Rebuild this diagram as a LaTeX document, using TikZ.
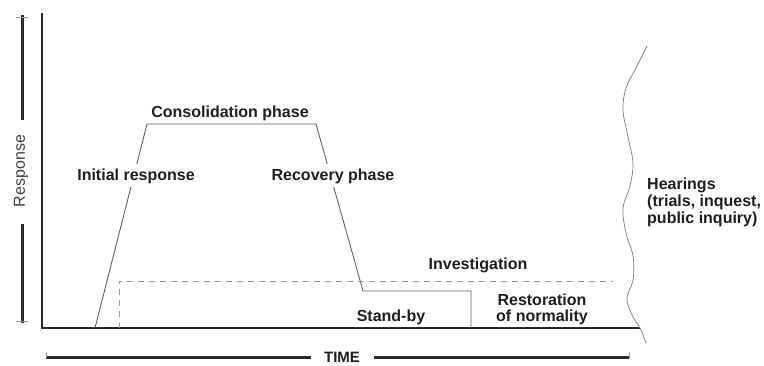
\documentclass[tikz,border=0pt]{standalone}
\usepackage{fontspec}
\setmainfont{Liberation Sans}
\definecolor{ink}{HTML}{1E1E1E}
\definecolor{axisc}{HTML}{2A2A2A}
\definecolor{curvec}{HTML}{5E5E5E}
\definecolor{dashc}{HTML}{9A9A9A}
\definecolor{wavec}{HTML}{7A7A7A}
\begin{document}
\begin{tikzpicture}[x=1pt,y=-1pt,
  lbl/.style={font=\fontsize{16}{17}\selectfont\bfseries, text=ink, inner sep=0pt, anchor=base},
  knockout/.style={fill=white, inner xsep=1pt, inner ysep=4pt},
  axisline/.style={draw=axisc, line width=2pt},
  thickbar/.style={draw=axisc, line width=3pt},
  endtick/.style={draw=dashc, line width=0.6pt},
  phase/.style={draw=curvec, line width=0.9pt, line join=miter},
  investline/.style={draw=dashc, line width=0.9pt, dash pattern=on 6pt off 5pt},
  wave/.style={draw=wavec, line width=0.7pt}]
\useasboundingbox (0,0) rectangle (764,365);

% axes
\coordinate (ytop) at (42,13);
\coordinate (origin) at (42,328);
\coordinate (xend) at (640,328);
\draw[axisline, line join=miter] (ytop) -- (origin) -- (xend);

% response bar with label
\node[font=\fontsize{16}{17}\selectfont, text=ink!85, rotate=90, inner sep=0pt] (resp) at (21,171) {Response};
\coordinate (rtop) at (22,15);
\coordinate (rbot) at (22,323);
\draw[thickbar] (rtop) -- (22,120);
\draw[thickbar] (22,224) -- (rbot);
\draw[endtick] (16,17) -- (28,17);
\draw[endtick] (16,321) -- (28,321);

% time bar with label
\node[font=\fontsize{15}{16}\selectfont\bfseries, text=ink, inner sep=0pt, anchor=base] (time) at (342,362) {TIME};
\coordinate (tleft) at (46,357.5);
\coordinate (tright) at (629,357.5);
\draw[thickbar] (tleft) -- (311,357.5);
\draw[thickbar] (374,357.5) -- (tright);
\draw[endtick] (46,351.5) -- (46,357.5);
\draw[endtick] (629,351.5) -- (629,357.5);

% response curve
\coordinate (start) at (95,328);
\coordinate (peakL) at (147,124);
\coordinate (peakR) at (316,124);
\coordinate (standL) at (363,291);
\coordinate (standR) at (471,291);
\coordinate (endp) at (471,328);
\draw[phase] (start) -- (peakL) -- (peakR) -- (standL) -- (standR) -- (endp);

% investigation (dashed)
\coordinate (invS) at (119,328);
\coordinate (invC) at (119,281);
\coordinate (invE) at (613,281);
\draw[investline] (invS) -- (invC) -- (invE);

% wavy boundary before the hearings
\draw[wave] plot[smooth, tension=0.6] coordinates {
  (647,46) (636,68) (626,88) (623,110) (628,137) (633,163)
  (630,186) (623,208) (626,233) (633,256) (633,280) (627,298)
  (632,315) (640,328) (646,343)};

% phase labels (the two slope labels mask the curve behind them)
\node[lbl] (consol) at (230,117) {Consolidation phase};
\node[lbl, knockout] (init) at (136,180) {Initial response};
\node[lbl, knockout] (recov) at (333,180) {Recovery phase};
\node[lbl] (invest) at (478,269) {Investigation};
\node[lbl] (standby) at (391,321) {Stand-by};
\node[lbl] (resto1) at (542,305) {Restoration};
\node[lbl] (resto2) at (542,321) {of normality};
\node[lbl, anchor=base west] (hear1) at (647,189) {Hearings};
\node[lbl, anchor=base west] (hear2) at (647,206) {(trials, inquest,};
\node[lbl, anchor=base west] (hear3) at (647,223) {public inquiry)};
\end{tikzpicture}
\end{document}
